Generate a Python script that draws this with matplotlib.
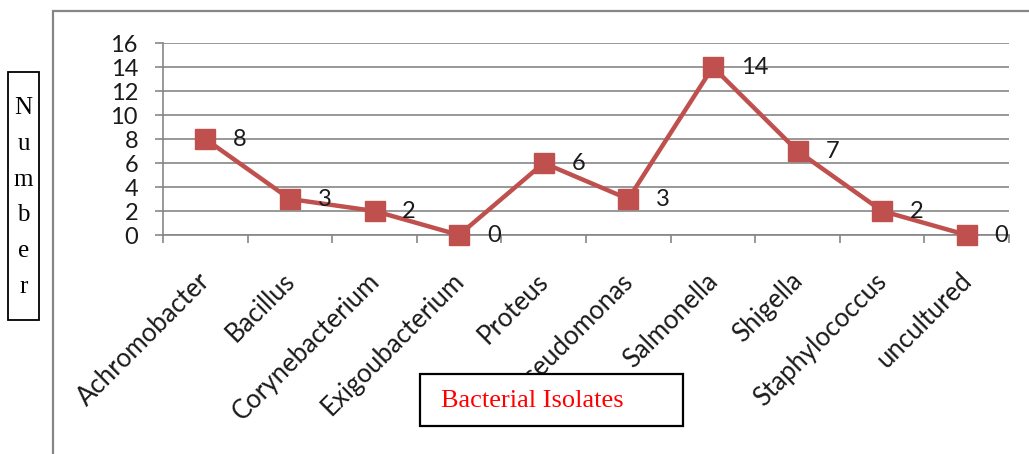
import matplotlib.pyplot as plt
import matplotlib.transforms as mtransforms
from matplotlib.patches import Rectangle

# data
isolates = ['Achromobacter', 'Bacillus', 'Corynebacterium', 'Exigoubacterium',
            'Proteus', 'Pseudomonas', 'Salmonella', 'Shigella',
            'Staphylococcus', 'uncultured']
counts = [8, 3, 2, 0, 6, 3, 14, 7, 2, 0]
y_ticks = [0, 2, 4, 6, 8, 10, 12, 14, 16]

W, H = 1029, 454
fig = plt.figure(figsize=(W / 100, H / 100), dpi=100)

# outer chart frame (runs off the right and bottom edge)
fig.add_artist(Rectangle((53 / W, -0.05), 1.1, 1 - 11 / H + 0.05,
                         transform=fig.transFigure, fill=False,
                         edgecolor='#868686', lw=1.6))

ax = fig.add_axes([163 / W, 1 - 235 / H, (1009 - 163) / W, (235 - 43) / H])
x = list(range(len(isolates)))
ax.plot(x, counts, color='#C0504D', lw=3.2, marker='s', ms=15,
        markerfacecolor='#C0504D', markeredgecolor='#C0504D', zorder=3,
        clip_on=False)

for xi, v in zip(x, counts):
    ax.annotate(str(v), (xi, v), xytext=(20, 0), textcoords='offset points',
                ha='left', va='center', fontsize=17, family='Lato',
                color='#1a1a1a', zorder=4)

ax.set_xlim(-0.5, len(isolates) - 0.5)
ax.set_ylim(0, 16)
ax.set_yticks(y_ticks)
ax.set_yticklabels([str(t) for t in y_ticks], fontsize=17, family='Lato',
                   color='#1a1a1a')
ax.set_xticks(x)
ax.set_xticklabels(isolates, rotation=45, ha='right', fontsize=18.5,
                   family='Lato', color='#1a1a1a')
ax.set_xticks([i - 0.5 for i in range(len(isolates) + 1)], minor=True)
ax.tick_params(axis='x', which='major', length=0, pad=24)
ax.tick_params(axis='x', which='minor', length=6, width=1.2, color='#868686',
               direction='out')
ax.tick_params(axis='y', length=6, width=1.2, color='#868686', pad=12)
ax.yaxis.grid(True, color='#868686', lw=1.2)
ax.set_axisbelow(True)
for s in ['top', 'right']:
    ax.spines[s].set_visible(False)
for s in ['left', 'bottom']:
    ax.spines[s].set_color('#868686')
    ax.spines[s].set_linewidth(1.2)

# shift x labels so their upper end sits near the category centre
offset = mtransforms.ScaledTranslation(10 / 100, 0, fig.dpi_scale_trans)
for lbl in ax.get_xticklabels():
    lbl.set_transform(lbl.get_transform() + offset)

# "Number" box on the left
fig.add_artist(Rectangle((8 / W, 1 - 320 / H), 31 / W, 248 / H,
                         transform=fig.transFigure, fill=False,
                         edgecolor='black', lw=1.3))
for i, ch in enumerate('Number'):
    fig.text(23.5 / W, 1 - (108 + i * 35.8) / H, ch, ha='center', va='center',
             fontsize=18, family='Liberation Serif', color='black')

# "Bacterial Isolates" box
fig.add_artist(Rectangle((420 / W, 1 - 426 / H), 263 / W, 52 / H,
                         transform=fig.transFigure, facecolor='white',
                         edgecolor='black', lw=1.6, zorder=5))
fig.text(441 / W, 1 - 401 / H, 'Bacterial Isolates', ha='left', va='center',
         fontsize=19, family='Liberation Serif', color='red', zorder=6)

fig.savefig('out.png', dpi=100)
